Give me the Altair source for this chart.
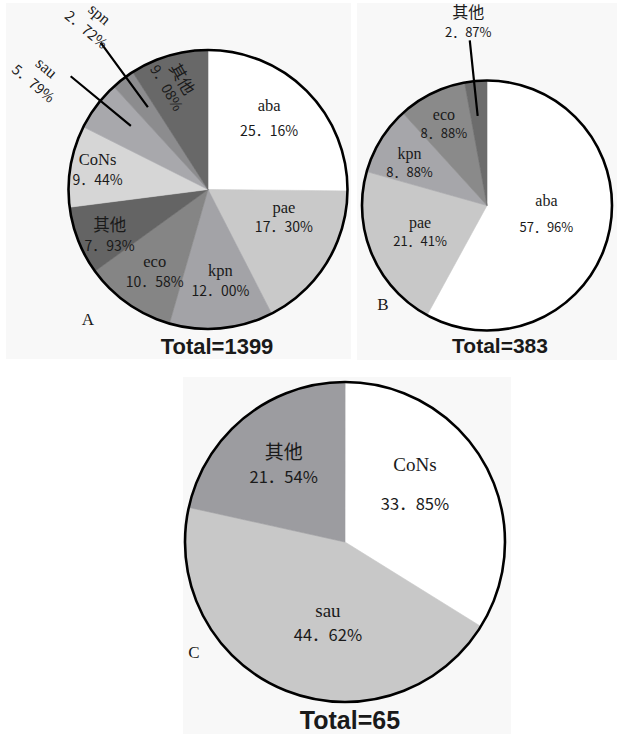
import math
import altair as alt
import pandas as pd

# ---------------- values ----------------
a_cats = ["aba", "pae", "kpn", "eco", "其他", "CoNs", "sau", "spn", "其他"]
a_vals = [25.16, 17.30, 12.00, 10.58, 7.93, 9.44, 5.79, 2.72, 9.08]
a_total = 1399

b_cats = ["aba", "pae", "kpn", "eco", "其他"]
b_vals = [57.96, 21.41, 8.88, 8.88, 2.87]
b_total = 383

c_cats = ["CoNs", "sau", "其他"]
c_vals = [33.85, 44.62, 21.54]
c_total = 65

panel_letters = ["A", "B", "C"]

# ---------------- styles ----------------
a_colors = ["#ffffff", "#c9c9c9", "#a3a3a7", "#858585", "#646464",
            "#d6d6d6", "#a8a8ac", "#8c8c8e", "#686868"]
b_colors = ["#ffffff", "#c8c8c8", "#a6a6aa", "#8a8a8a", "#6c6c6c"]
c_colors = ["#ffffff", "#c8c8c8", "#9c9ca0"]

NAME_FONT = '"Liberation Serif", "Noto Sans CJK SC"'
PCT_FONT = '"Noto Sans CJK SC"'
TXT = "#1a1a1a"
PANEL = "#f8f8f8"

# label layout (angle nudge in % of circle, radius px, line gap px, rotation deg)
a_nudge = [-1.17, -3.1, -0.6, -0.7, -1.1, 0.0, -0.9, 0.8, -0.5]
a_lrad = [93, 81, 93, 99, 109, 112, 203, 203, 111]
a_gap = [26, 20, 21, 21, 21, 21, 21, 21, 18]
a_rot = [0, 0, 0, 0, 0, 0, 40, 40, 60]
a_leaders = {6: (0.67, 100, 178), 7: (0.4, 102, 182)}

b_nudge = [-1.7, 0.3, -0.95, -0.45, -0.2]
b_lrad = [60, 72, 88, 92, 183]
b_gap = [27, 19, 19, 19, 20]
b_rot = [0, 0, 0, 0, 0]
b_leaders = {4: (-0.22, 90, 166)}

c_nudge = [-2.75, -2.86, 0.0]
c_lrad = [90, 83, 98]
c_gap = [40, 25, 25]
c_rot = [0, 0, 0]
c_leaders = {}

TH = alt.Scale(domain=[0, 100], range=[0, 2 * math.pi])


def pct_text(v):
    return f"{v:.2f}".replace(".", "．") + "%"


def build(cats, vals, colors, nudge, lrad, gap, rot):
    rows = []
    cum = 0.0
    for i, (c, v) in enumerate(zip(cats, vals)):
        rows.append(dict(idx=i, cat=c, val=v, pct=pct_text(v), start=cum,
                         end=cum + v, lt=cum + v / 2 + nudge[i], lr=lrad[i],
                         gap=gap[i], ang=rot[i], color=colors[i]))
        cum += v
    return pd.DataFrame(rows)


one = pd.DataFrame({"k": [0]})


def pie_layers(df, leaders, cx, cy, r, name_size, pct_size):
    base = alt.Chart(df)
    out = []
    out.append(base.mark_arc(outerRadius=r, strokeWidth=0.6).encode(
        x=alt.value(cx), y=alt.value(cy),
        theta=alt.Theta("start:Q", scale=TH, stack=False),
        theta2="end:Q",
        color=alt.Color("color:N", scale=None),
        stroke=alt.Stroke("color:N", scale=None)))
    out.append(alt.Chart(one).mark_arc(outerRadius=r, fillOpacity=0,
                                       stroke="black", strokeWidth=2.6).encode(
        x=alt.value(cx), y=alt.value(cy),
        theta=alt.value(0), theta2=alt.value(2 * math.pi)))
    if leaders:
        rows = []
        for i, (nd, ri, ro) in leaders.items():
            s = df.loc[i]
            rows.append(dict(ll=s["start"] + s["val"] / 2 + nd, li=ri, lo=ro))
        ldf = pd.DataFrame(rows)
        out.append(alt.Chart(ldf).mark_arc(fillOpacity=0, stroke="black",
                                           strokeWidth=2.2).encode(
            x=alt.value(cx), y=alt.value(cy),
            theta=alt.Theta("ll:Q", scale=TH, stack=False),
            theta2="ll:Q",
            radius=alt.Radius("lo:Q", scale=None),
            radius2="li:Q"))
    groups = {}
    for _, s in df.iterrows():
        groups.setdefault((float(s["gap"]), int(s["ang"])), []).append(int(s["idx"]))
    for (g, a), ids in groups.items():
        flt = alt.FieldOneOfPredicate(field="idx", oneOf=ids)
        for field, font, size, sign in [("cat", NAME_FONT, name_size, -1),
                                         ("pct", PCT_FONT, pct_size, 1)]:
            out.append(base.transform_filter(flt).mark_text(
                align="center", baseline="middle", dy=sign * g / 2, angle=a,
                font=font, fontSize=size, color=TXT).encode(
                x=alt.value(cx), y=alt.value(cy),
                theta=alt.Theta("lt:Q", scale=TH, stack=False),
                radius=alt.Radius("lr:Q", scale=None),
                text=f"{field}:N"))
    return out


def rect(x1, y1, x2, y2):
    return alt.Chart(one).mark_rect(color=PANEL).encode(
        x=alt.value(x1), x2=alt.value(x2), y=alt.value(y1), y2=alt.value(y2))


def label(text, x, y, font, size, weight="normal"):
    return alt.Chart(pd.DataFrame({"t": [text]})).mark_text(
        font=font, fontSize=size, fontWeight=weight, color=TXT,
        align="center", baseline="middle").encode(
        x=alt.value(x), y=alt.value(y), text="t:N")


da = build(a_cats, a_vals, a_colors, a_nudge, a_lrad, a_gap, a_rot)
db = build(b_cats, b_vals, b_colors, b_nudge, b_lrad, b_gap, b_rot)
dc = build(c_cats, c_vals, c_colors, c_nudge, c_lrad, c_gap, c_rot)

layers = [rect(6, 3, 351, 359), rect(357, 3, 617, 360), rect(183, 377, 511, 734)]
layers += pie_layers(da, a_leaders, 208, 189.5, 139.5, 16.5, 14)
layers += pie_layers(db, b_leaders, 487, 205.5, 125, 16, 13)
layers += pie_layers(dc, c_leaders, 345, 542, 160, 19, 16.5)
layers += [
    label(f"Total={a_total}", 217, 347, "Liberation Sans", 22, "bold"),
    label(f"Total={b_total}", 500, 347, "Liberation Sans", 21, "bold"),
    label(f"Total={c_total}", 350, 721, "Liberation Sans", 25, "bold"),
    label(panel_letters[0], 88, 320, "Liberation Serif", 17),
    label(panel_letters[1], 383, 305, "Liberation Serif", 17),
    label(panel_letters[2], 194, 653, "Liberation Serif", 17),
]

chart = alt.layer(*layers).properties(
    width=620, height=734, padding=0,
    autosize=alt.AutoSizeParams(type="none"),
    background="white",
).configure_view(stroke=None)

chart.save("out.html", embed_options={"renderer": "svg", "actions": False})
